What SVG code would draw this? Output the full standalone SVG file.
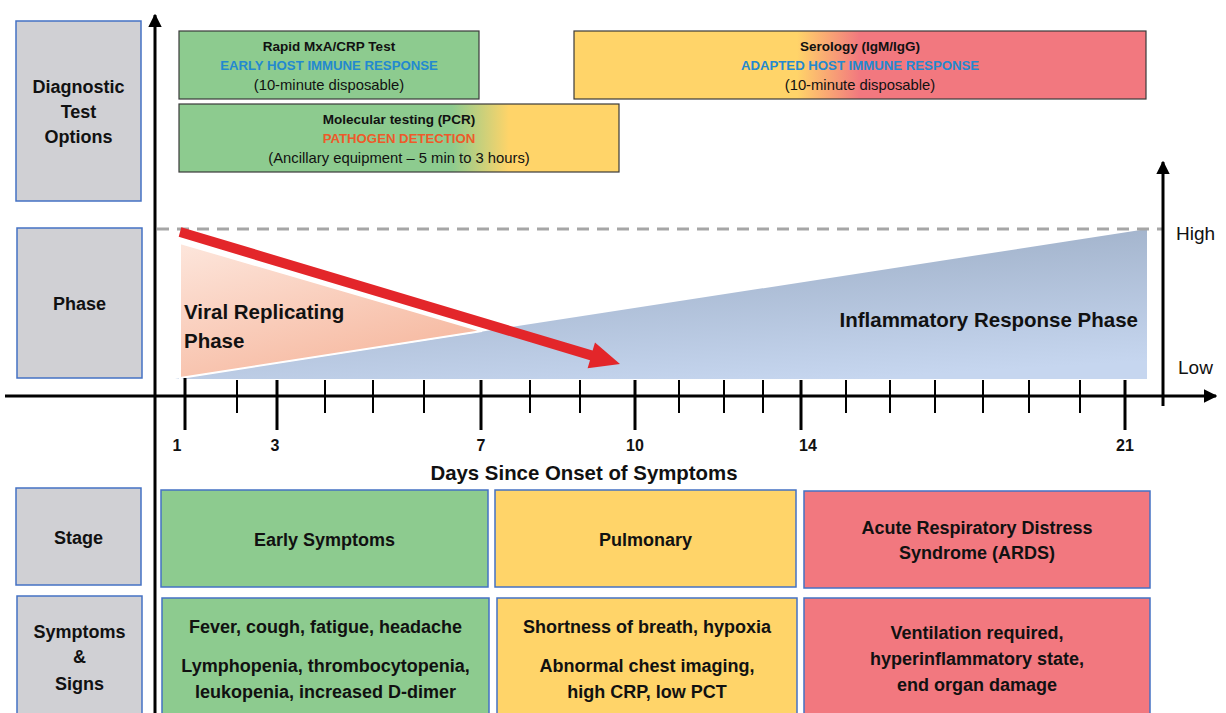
<svg xmlns="http://www.w3.org/2000/svg" width="1226" height="713" viewBox="0 0 1226 713">
<style>
text{font-family:"Liberation Sans",Arial,sans-serif;fill:#111}
.b{font-weight:bold}
.lab{fill:#D0D0D4;stroke:#4472C4;stroke-width:1.5}
.tb{stroke:#3a3a3a;stroke-width:1.2}
.bx{stroke:#4472C4;stroke-width:1.5}
.g{fill:#8DCB8F}.y{fill:#FFD469}.r{fill:#F2787F}
.ax{stroke:#000;stroke-width:3;fill:none}
.tk{stroke:#000;stroke-width:2}
.tkb{stroke:#000;stroke-width:3}
.blue{fill:#2389D0;font-weight:bold;font-size:13.2px}
.org{fill:#EE5A2A;font-weight:bold;font-size:13.2px}
.t18{font-size:18px}
.t13{font-size:13.5px}
.t14{font-size:14.8px}
</style>
<defs>
<marker id="ah" viewBox="0 0 10 10" refX="9" refY="5" markerWidth="4.5" markerHeight="4.5" orient="auto" markerUnits="strokeWidth">
<path d="M0,0 L10,5 L0,10 z" fill="#000"/>
</marker>
<linearGradient id="gMol" x1="0" y1="0" x2="1" y2="0">
<stop offset="0" stop-color="#8DCB8F"/><stop offset="0.62" stop-color="#8DCB8F"/><stop offset="0.75" stop-color="#FFD469"/><stop offset="1" stop-color="#FFD469"/>
</linearGradient>
<linearGradient id="gSer" x1="0" y1="0" x2="1" y2="0">
<stop offset="0" stop-color="#FFD469"/><stop offset="0.39" stop-color="#FFD469"/><stop offset="0.5" stop-color="#F2787F"/><stop offset="1" stop-color="#F2787F"/>
</linearGradient>
<linearGradient id="gPeach" x1="0" y1="0" x2="0.6" y2="1">
<stop offset="0" stop-color="#FDE6DC"/><stop offset="1" stop-color="#F6B89F"/>
</linearGradient>
<linearGradient id="gBlue" x1="0.3" y1="0" x2="0.7" y2="1">
<stop offset="0" stop-color="#9AABC3"/><stop offset="1" stop-color="#C6D6EF"/>
</linearGradient>
</defs>

<!-- Phase shapes -->
<g id="inflammatory-phase">
<polygon points="175,379 1147,229 1147,379" fill="url(#gBlue)"/>
<text class="b" x="1138" y="327" font-size="20.5" text-anchor="end">Inflammatory Response Phase</text>
</g>
<g id="viral-phase">
<polygon points="180,243 482,331 180,378" fill="url(#gPeach)" stroke="#fff" stroke-width="2"/>
<text class="b" x="184" y="319" font-size="20.5">Viral Replicating</text>
<text class="b" x="184" y="348" font-size="20.5">Phase</text>
</g>

<!-- Connectors / axes -->
<g id="connectors">
<line x1="157" y1="229" x2="1163" y2="229" stroke="#A6A6A6" stroke-width="3" stroke-dasharray="12 8"/>
<line class="ax" x1="155" y1="713" x2="155" y2="15" marker-end="url(#ah)"/>
<line class="ax" x1="5" y1="396" x2="1216" y2="396" marker-end="url(#ah)"/>
<line class="ax" x1="1163" y1="406" x2="1163" y2="162" marker-end="url(#ah)"/>
<g id="ticks">
<line class="tkb" x1="185" y1="378" x2="185" y2="430"/>
<line class="tk" x1="237" y1="380" x2="237" y2="413"/>
<line class="tkb" x1="277" y1="380" x2="277" y2="430"/>
<line class="tk" x1="325" y1="380" x2="325" y2="413"/>
<line class="tk" x1="373" y1="380" x2="373" y2="413"/>
<line class="tk" x1="424" y1="380" x2="424" y2="413"/>
<line class="tkb" x1="481" y1="380" x2="481" y2="430"/>
<line class="tk" x1="530" y1="380" x2="530" y2="413"/>
<line class="tk" x1="580" y1="380" x2="580" y2="413"/>
<line class="tkb" x1="635" y1="380" x2="635" y2="430"/>
<line class="tk" x1="679" y1="380" x2="679" y2="413"/>
<line class="tk" x1="724" y1="380" x2="724" y2="413"/>
<line class="tk" x1="763" y1="380" x2="763" y2="413"/>
<line class="tkb" x1="801" y1="380" x2="801" y2="430"/>
<line class="tk" x1="846" y1="380" x2="846" y2="413"/>
<line class="tk" x1="890" y1="380" x2="890" y2="413"/>
<line class="tk" x1="935" y1="380" x2="935" y2="413"/>
<line class="tk" x1="983" y1="380" x2="983" y2="413"/>
<line class="tk" x1="1029" y1="380" x2="1029" y2="413"/>
<line class="tk" x1="1080" y1="380" x2="1080" y2="413"/>
<line class="tkb" x1="1125" y1="380" x2="1125" y2="430"/>
</g>
<polygon id="viral-trend" points="181.3,227.2 592.6,350.6 595,342.4 620,364 587.6,368.3 590,360.2 178.7,236.8" fill="#E3262A"/>
</g>

<g id="axis-labels">
<text x="1176" y="240" font-size="19">High</text>
<text x="1178" y="374" font-size="19">Low</text>
<g class="b" font-size="16" text-anchor="middle">
<text x="177" y="451">1</text>
<text x="275" y="451">3</text>
<text x="481" y="451">7</text>
<text x="635" y="451">10</text>
<text x="808" y="451">14</text>
<text x="1125" y="451">21</text>
</g>
<text class="b" x="584" y="480" font-size="20.4" text-anchor="middle">Days Since Onset of Symptoms</text>
</g>

<!-- Row labels -->
<g id="label-diagnostic">
<rect class="lab" x="16" y="21" width="125" height="180"/>
<text class="b t18" x="78.5" y="93" text-anchor="middle">Diagnostic</text>
<text class="b t18" x="78.5" y="118" text-anchor="middle">Test</text>
<text class="b t18" x="78.5" y="143" text-anchor="middle">Options</text>
</g>
<g id="label-phase">
<rect class="lab" x="17" y="228" width="125" height="150"/>
<text class="b t18" x="79.5" y="310" text-anchor="middle">Phase</text>
</g>
<g id="label-stage">
<rect class="lab" x="16" y="488" width="125" height="97"/>
<text class="b t18" x="78.5" y="544" text-anchor="middle">Stage</text>
</g>
<g id="label-symptoms">
<rect class="lab" x="17" y="596" width="125" height="130"/>
<text class="b t18" x="79.5" y="638" text-anchor="middle">Symptoms</text>
<text class="b t18" x="79.5" y="663" text-anchor="middle">&amp;</text>
<text class="b t18" x="79.5" y="690" text-anchor="middle">Signs</text>
</g>

<!-- Diagnostic tests -->
<g id="test-mxa">
<rect class="tb g" x="179" y="31" width="300" height="68"/>
<text class="b t13" x="329" y="51" text-anchor="middle">Rapid MxA/CRP Test</text>
<text class="blue" x="329" y="70" text-anchor="middle">EARLY HOST IMMUNE RESPONSE</text>
<text class="t14" x="329" y="90" text-anchor="middle">(10-minute disposable)</text>
</g>
<g id="test-pcr">
<rect class="tb" x="179" y="104" width="440" height="68" fill="url(#gMol)"/>
<text class="b t13" x="399" y="124" text-anchor="middle">Molecular testing (PCR)</text>
<text class="org" x="399" y="143" text-anchor="middle">PATHOGEN DETECTION</text>
<text class="t14" x="399" y="163" text-anchor="middle">(Ancillary equipment – 5 min to 3 hours)</text>
</g>
<g id="test-serology">
<rect class="tb" x="574" y="31" width="572" height="68" fill="url(#gSer)"/>
<text class="b t13" x="860" y="51" text-anchor="middle">Serology (IgM/IgG)</text>
<text class="blue" x="860" y="70" text-anchor="middle">ADAPTED HOST IMMUNE RESPONSE</text>
<text class="t14" x="860" y="90" text-anchor="middle">(10-minute disposable)</text>
</g>

<!-- Stages -->
<g id="stage-early">
<rect class="bx g" x="161" y="490" width="327" height="97"/>
<text class="b t18" x="324.5" y="546" text-anchor="middle">Early Symptoms</text>
</g>
<g id="stage-pulmonary">
<rect class="bx y" x="495" y="490" width="301" height="97"/>
<text class="b t18" x="645.5" y="546" text-anchor="middle">Pulmonary</text>
</g>
<g id="stage-ards">
<rect class="bx r" x="804" y="491" width="346" height="97"/>
<text class="b t18" x="977" y="534" text-anchor="middle">Acute Respiratory Distress</text>
<text class="b t18" x="977" y="559" text-anchor="middle">Syndrome (ARDS)</text>
</g>

<!-- Symptoms -->
<g id="symptoms-early">
<rect class="bx g" x="162" y="598" width="327" height="130"/>
<text class="b t18" x="325.5" y="633" text-anchor="middle">Fever, cough, fatigue, headache</text>
<text class="b t18" x="325.5" y="672" text-anchor="middle">Lymphopenia, thrombocytopenia,</text>
<text class="b t18" x="325.5" y="698" text-anchor="middle">leukopenia, increased D-dimer</text>
</g>
<g id="symptoms-pulmonary">
<rect class="bx y" x="497" y="598" width="300" height="130"/>
<text class="b t18" x="647" y="633" text-anchor="middle">Shortness of breath, hypoxia</text>
<text class="b t18" x="647" y="672" text-anchor="middle">Abnormal chest imaging,</text>
<text class="b t18" x="647" y="698" text-anchor="middle">high CRP, low PCT</text>
</g>
<g id="symptoms-ards">
<rect class="bx r" x="804" y="598" width="346" height="130"/>
<text class="b t18" x="977" y="639" text-anchor="middle">Ventilation required,</text>
<text class="b t18" x="977" y="665" text-anchor="middle">hyperinflammatory state,</text>
<text class="b t18" x="977" y="691" text-anchor="middle">end organ damage</text>
</g>
</svg>
